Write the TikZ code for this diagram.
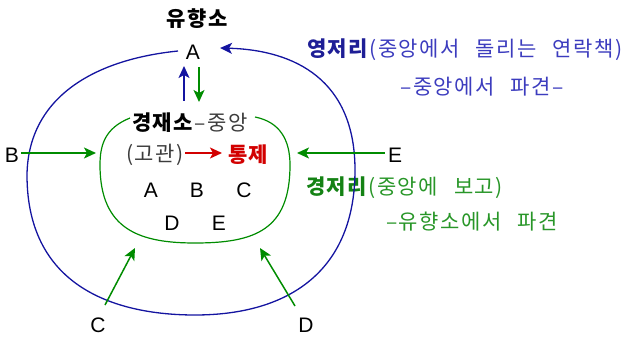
\documentclass[tikz,border=0pt]{standalone}
\usepackage{fontspec}
\setmainfont{Noto Sans CJK KR}[WordSpace=2.6, LetterSpace=7]
\newfontfamily\lat{Liberation Sans}
\usetikzlibrary{arrows.meta}
\definecolor{navy}{RGB}{20,20,160}
\definecolor{gline}{RGB}{0,140,0}
\definecolor{btext}{RGB}{60,60,190}
\definecolor{bbold}{RGB}{30,30,150}
\definecolor{gtext}{RGB}{40,150,40}
\definecolor{gbold}{RGB}{20,130,20}
\definecolor{rtext}{RGB}{210,0,0}
\definecolor{gray}{RGB}{60,60,60}
\tikzset{
  ko/.style={font=\fontsize{21}{23}\selectfont, inner sep=0pt},
  let/.style={font=\lat\fontsize{21}{23}\selectfont, inner sep=0pt},
  arr/.style={line width=1.5pt, -{Stealth[length=12pt,width=11pt,inset=3pt]}},
  bline/.style={navy, line width=1.3pt},
  gcurve/.style={gline, line width=1.2pt},
}
\begin{document}
\begin{tikzpicture}[x=1pt,y=-1pt]
\useasboundingbox (0,0) rectangle (621,342);
% labels
\node[ko, font=\fontsize{21}{23}\selectfont\bfseries] (top) at (197,19) {유향소};
\node[let] (A) at (193,52) {A};
\node[ko, anchor=west] (gj) at (132,123) {\textbf{경재소}\textcolor{gray}{–중앙}};
\node[ko, anchor=west, text=gray] (gk) at (126,155) {(고관)};
\node[ko, anchor=west, text=rtext] (tj) at (228,155) {\textbf{통제}};
\node[let] (iA) at (151,190) {A};
\node[let] (iB) at (197,190) {B};
\node[let] (iC) at (244,190) {C};
\node[let] (iD) at (172,223) {D};
\node[let] (iE) at (219,223) {E};
\node[let] (B) at (12,155) {B};
\node[let] (E) at (395,155) {E};
\node[let] (C) at (98,325) {C};
\node[let] (D) at (306,325) {D};
\node[ko, anchor=west, text=btext] (yj) at (307,50) {\textcolor{bbold}{\textbf{영저리}}(중앙에서 돌리는 연락책)};
\node[ko, text=btext] (yj2) at (482,87) {–중앙에서 파견–};
\node[ko, anchor=west, text=gtext] (kj) at (306,188) {\textcolor{gbold}{\textbf{경저리}}(중앙에 보고)};
\node[ko, anchor=west, text=gtext] (kj2) at (386,222) {–유향소에서 파견};
% coordinates
\coordinate (oStart) at (178,51);
\coordinate (oEnd) at (220,48);
\coordinate (upT) at (184,101);
\coordinate (upH) at (184,66);
\coordinate (dnT) at (199,67);
\coordinate (dnH) at (199,102);
\coordinate (rT) at (185,153);
\coordinate (rH) at (222,153);
\coordinate (bH) at (96,153);
\coordinate (eH) at (297,153);
\coordinate (cT) at (105,305);
\coordinate (cH) at (135,248);
\coordinate (dT) at (295,306);
\coordinate (dH) at (260,248);
% outer blue curve
\draw[bline, -{Stealth[length=12pt,width=11pt,inset=3pt]}] (oStart)
  .. controls (90,60) and (28,100) .. (27,175)
  .. controls (27,290) and (120,315) .. (195,315)
  .. controls (290,315) and (355,270) .. (355,170)
  .. controls (355,80) and (295,50) .. (oEnd);
% inner green curve
\draw[gcurve] (130,118) .. controls (105,128) and (100,145) .. (100,165)
  .. controls (100,230) and (140,243) .. (195,243)
  .. controls (255,243) and (290,230) .. (290,165)
  .. controls (290,140) and (280,122) .. (255,117);
% arrows
\draw[arr, navy] (upT) -- (upH);
\draw[arr, gline] (dnT) -- (dnH);
\draw[arr, rtext] (rT) -- (rH);
\draw[arr, gline] (B.east) ++(2,-2) -- (bH);
\draw[arr, gline] (E.west) ++(-3,-2) -- (eH);
\draw[arr, gline] (cT) -- (cH);
\draw[arr, gline] (dT) -- (dH);
\end{tikzpicture}
\end{document}
